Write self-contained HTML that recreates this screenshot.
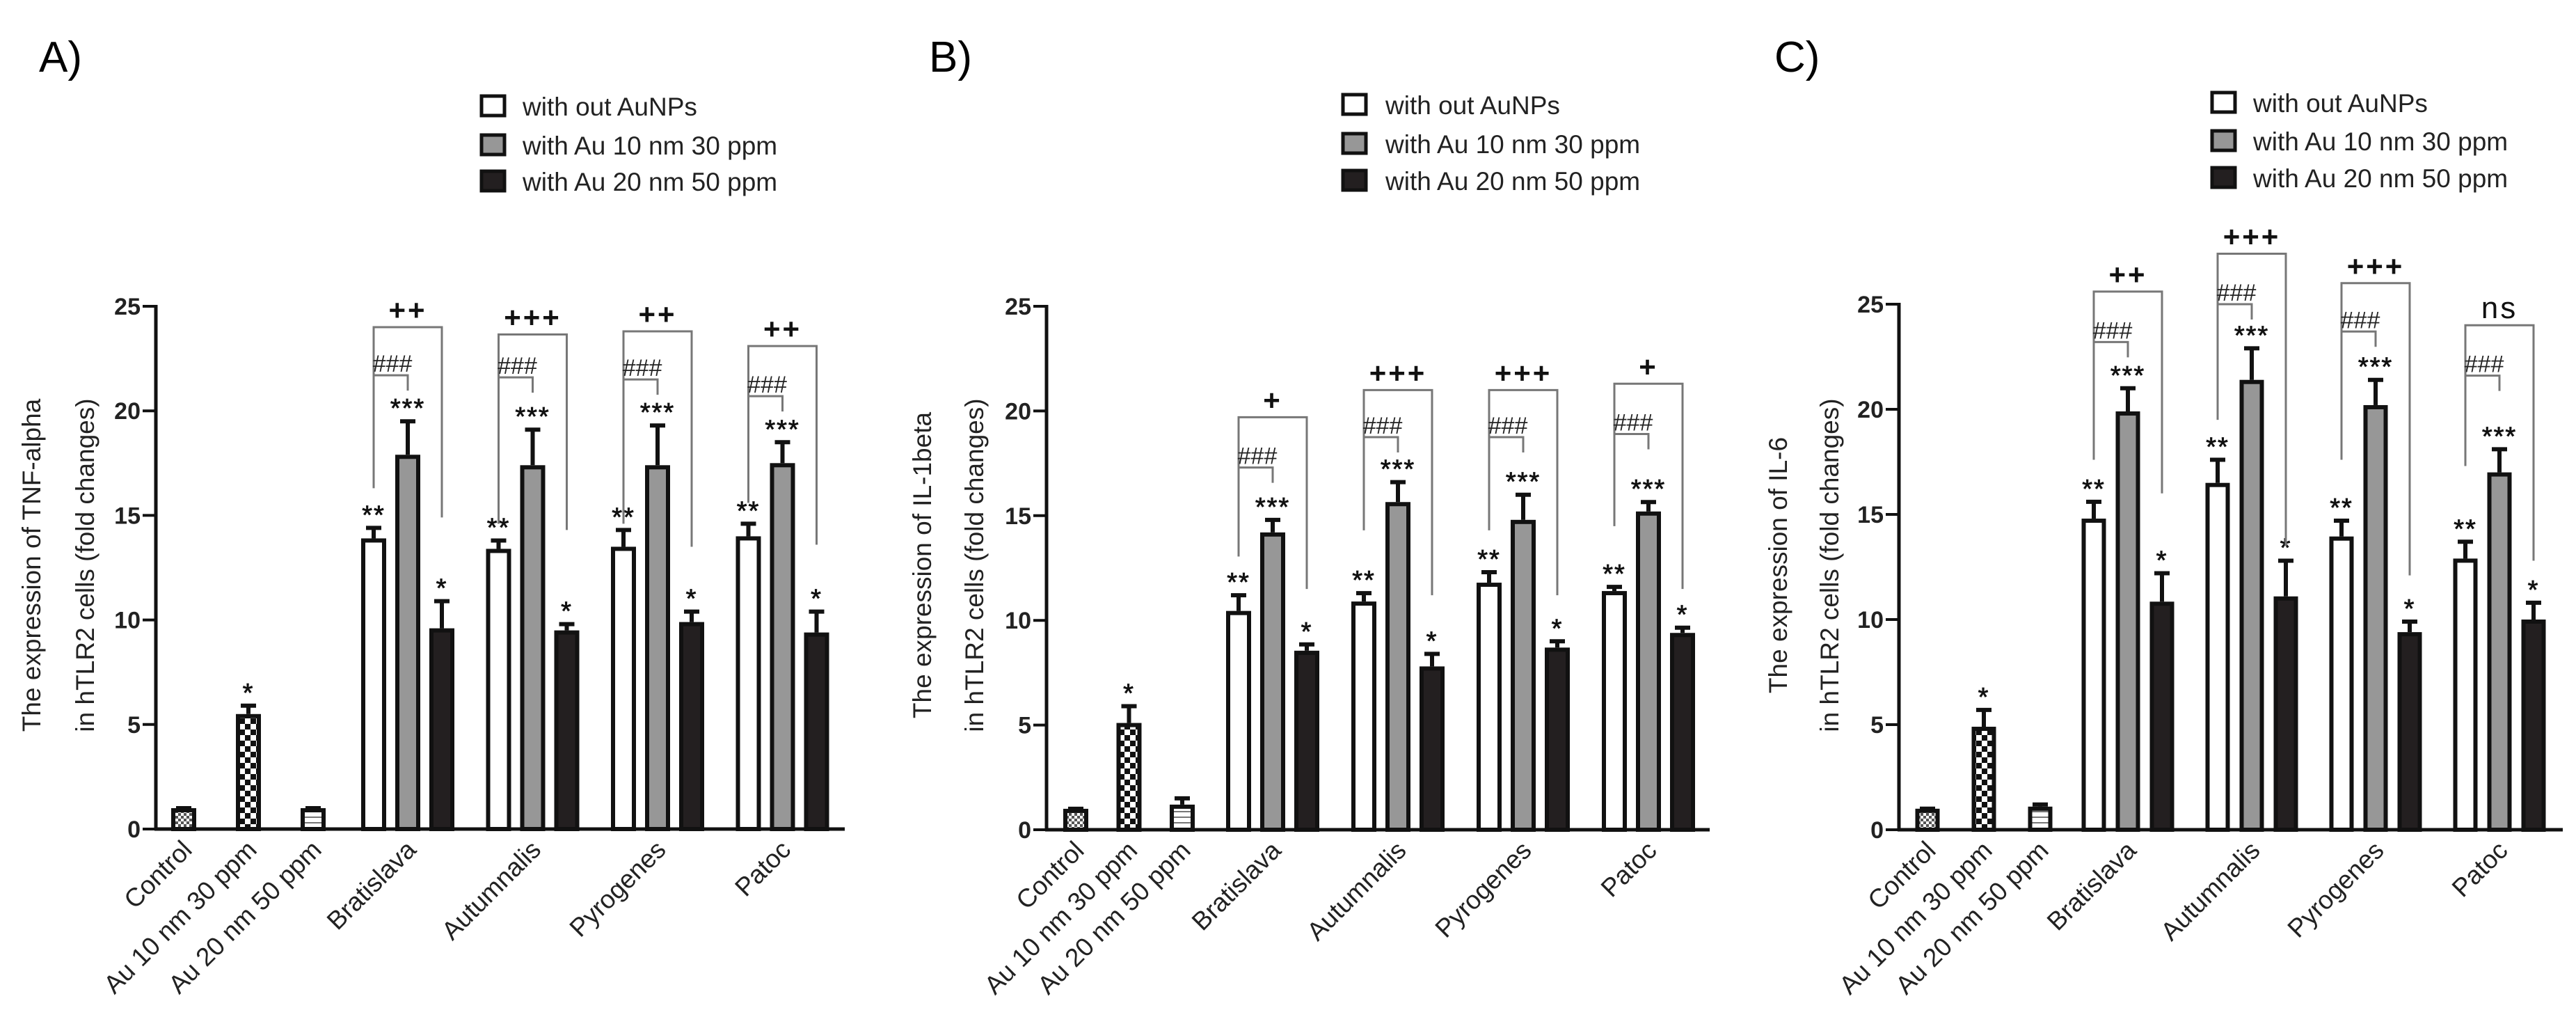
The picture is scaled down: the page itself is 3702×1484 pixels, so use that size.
<!DOCTYPE html>
<html><head><meta charset="utf-8"><style>
html,body{margin:0;padding:0;background:#fff;}
svg{display:block;font-family:"Liberation Sans",Arial,sans-serif;}
</style></head><body>
<svg id="fig" width="3702" height="1484" viewBox="0 0 3702 1484" xmlns="http://www.w3.org/2000/svg">
<defs>
<pattern id="patCtrl" width="8" height="8" patternUnits="userSpaceOnUse"><rect width="8" height="8" fill="#fff"/><rect width="4" height="4" fill="#555"/><rect x="4" y="4" width="4" height="4" fill="#555"/></pattern>
<pattern id="patAu10" width="16" height="16" patternUnits="userSpaceOnUse"><rect width="16" height="16" fill="#fff"/><rect width="8" height="8" fill="#111"/><rect x="8" y="8" width="8" height="8" fill="#111"/></pattern>
<pattern id="patAu20" width="8" height="8" patternUnits="userSpaceOnUse"><rect width="8" height="8" fill="#fff"/><rect y="5" width="8" height="2" fill="#777"/></pattern>
</defs>
</svg>
<script>
const categories = ["Control","Au 10 nm 30 ppm","Au 20 nm 50 ppm","Bratislava","Autumnalis","Pyrogenes","Patoc"];
const yTicks = [0,5,10,15,20,25];
const legendLabels = ["with out AuNPs","with Au 10 nm 30 ppm","with Au 20 nm 50 ppm"];
const panelLetters = ["A)","B)","C)"];
const yTitles = ["The expression of TNF-alpha","The expression of IL-1beta","The expression of IL-6"];
const yTitle2 = "in hTLR2 cells (fold changes)";

// Panel A (TNF-alpha)
const singleA = [1.0,5.5,1.0];
const singleErrA = [1.0,5.9,1.0];
const woA = [13.9,13.4,13.5,14.0];
const woErrA = [14.4,13.8,14.3,14.6];
const au10A = [17.9,17.4,17.4,17.5];
const au10ErrA = [19.5,19.1,19.3,18.5];
const au20A = [9.6,9.5,9.9,9.4];
const au20ErrA = [10.9,9.8,10.4,10.4];
const outerA = [24.0,23.65,23.8,23.1];
const leftLegA = [16.3,14.6,14.6,15.6];
const rightLegA = [14.9,14.3,13.5,13.6];
const innerA = [21.7,21.6,21.5,20.7];
const plusA = ["++","+++","++","++"];

// Panel B (IL-1beta)
const singleB = [1.0,5.1,1.2];
const singleErrB = [1.0,5.9,1.5];
const woB = [10.45,10.9,11.8,11.4];
const woErrB = [11.2,11.3,12.3,11.6];
const au10B = [14.2,15.65,14.8,15.2];
const au10ErrB = [14.8,16.6,16.0,15.65];
const au20B = [8.55,7.8,8.7,9.4];
const au20ErrB = [8.85,8.4,9.0,9.65];
const outerB = [19.7,21.0,21.0,21.3];
const leftLegB = [13.05,14.3,14.3,14.5];
const rightLegB = [11.5,11.2,11.2,11.5];
const innerB = [17.3,18.75,18.75,18.9];
const plusB = ["+","+++","+++","+"];

// Panel C (IL-6)
const singleC = [1.0,4.9,1.1];
const singleErrC = [1.0,5.7,1.2];
const woC = [14.8,16.5,13.95,12.9];
const woErrC = [15.6,17.6,14.7,13.7];
const au10C = [19.9,21.4,20.2,17.0];
const au10ErrC = [21.0,22.9,21.4,18.1];
const au20C = [10.85,11.1,9.4,10.0];
const au20ErrC = [12.2,12.8,9.9,10.8];
const outerC = [25.6,27.4,26.0,24.0];
const leftLegC = [17.6,19.5,17.6,17.3];
const rightLegC = [16.0,13.5,12.1,12.8];
const innerC = [23.2,25.0,23.7,21.6];
const plusC = ["++","+++","+++","ns"];

const singleStars = ["","*",""];
const groupStars = ["**","***","*"];

const layouts = [
 {axisX:224,zeroY:1191,topY:440,endX:1214,s0:264,sStep:93,g0:537,gStep:179.5,inner:49,bw:36,lbx:689,ltx:751,ly:[153,209,261],px:56,t1:48,t2:125},
 {axisX:1504,zeroY:1192,topY:440,endX:2457,s0:1546,sStep:76.5,g0:1780,gStep:180,inner:49,bw:36,lbx:1927,ltx:1991,ly:[151,207,260],px:1335,t1:1328,t2:1403},
 {axisX:2729,zeroY:1192,topY:437,endX:3683,s0:2770,sStep:81,g0:3009,gStep:178,inner:49,bw:35,lbx:3176,ltx:3238,ly:[148,203,256],px:2550,t1:2558,t2:2632}
];
const panels = [
 {single:singleA,singleErr:singleErrA,series:[woA,au10A,au20A],errs:[woErrA,au10ErrA,au20ErrA],outer:outerA,left:leftLegA,right:rightLegA,inner:innerA,plus:plusA},
 {single:singleB,singleErr:singleErrB,series:[woB,au10B,au20B],errs:[woErrB,au10ErrB,au20ErrB],outer:outerB,left:leftLegB,right:rightLegB,inner:innerB,plus:plusB},
 {single:singleC,singleErr:singleErrC,series:[woC,au10C,au20C],errs:[woErrC,au10ErrC,au20ErrC],outer:outerC,left:leftLegC,right:rightLegC,inner:innerC,plus:plusC}
];
const singleFills = ["url(#patCtrl)","url(#patAu10)","url(#patAu20)"];
const seriesFills = ["#ffffff","#979797","#231f20"];
const seriesNames = ["without-aunps","au10","au20"];

const NS = "http://www.w3.org/2000/svg";
const svg = document.getElementById("fig");
function mk(tag, attrs, parent, txt){
  const e = document.createElementNS(NS, tag);
  for (const k in attrs) e.setAttribute(k, attrs[k]);
  if (txt !== undefined) e.textContent = txt;
  (parent||svg).appendChild(e);
  return e;
}

layouts.forEach((L, pi) => {
  const P = panels[pi];
  const y = v => L.zeroY - (L.zeroY - L.topY) * v / 25;
  const sx = i => L.s0 + i * L.sStep;
  const gx = (g, s) => L.g0 + g * L.gStep + s * L.inner;
  const g = mk("g", {});
  
  

  const pl = mk("text", {x:L.px, y:103, "font-size":62}, g, panelLetters[pi]);
  
  

  legendLabels.forEach((lab, i) => {
    const r = mk("rect", {x:L.lbx+3, y:L.ly[i]-15, width:33, height:28, fill:seriesFills[i], stroke:"#111", "stroke-width":5}, g);
    
    
    const t = mk("text", {x:L.ltx, y:L.ly[i]+13, "font-size":37, fill:"#222"}, g, lab);
    
    
  });

  const cy = 812;
  const yt1 = mk("text", {x:L.t1, y:cy, "font-size":37, "text-anchor":"middle", transform:`rotate(-90 ${L.t1} ${cy})`, "dominant-baseline":"middle", fill:"#222"}, g, yTitles[pi]);
  
  
  const yt2 = mk("text", {x:L.t2, y:cy, "font-size":37, "text-anchor":"middle", transform:`rotate(-90 ${L.t2} ${cy})`, "dominant-baseline":"middle", fill:"#222"}, g, yTitle2);
  
  

  const ya = mk("line", {x1:L.axisX, y1:y(25)-2, x2:L.axisX, y2:L.zeroY+2, stroke:"#111", "stroke-width":5}, g);
  
  
  const xa = mk("line", {x1:L.axisX-2, y1:L.zeroY, x2:L.endX, y2:L.zeroY, stroke:"#111", "stroke-width":5}, g);
  
  
  yTicks.forEach(v => {
    const tk = mk("line", {x1:L.axisX-19, y1:y(v), x2:L.axisX, y2:y(v), stroke:"#111", "stroke-width":4}, g);
    
    
    const tl = mk("text", {x:L.axisX-22, y:y(v)+12, "font-size":34, "font-weight":"bold", "text-anchor":"end", fill:"#222"}, g, String(v));
    
    
  });

  function bar(cx, v, e, fill, star, name){
    const top = y(v);
    const er = mk("line", {x1:cx, y1:y(e), x2:cx, y2:top, stroke:"#111", "stroke-width":6}, g);
    
    
    const cap = mk("line", {x1:cx-11, y1:y(e), x2:cx+11, y2:y(e), stroke:"#111", "stroke-width":6}, g);
    
    
    const r = mk("rect", {x:cx-L.bw/2+3, y:top+3, width:L.bw-6, height:Math.max(0, L.zeroY-top-3), fill:fill, stroke:"#111", "stroke-width":6}, g);
    
    
    if (star) {
      const st = mk("text", {x:cx, y:y(e)-6, "font-size":38, "text-anchor":"middle", fill:"#111", "letter-spacing":"2", stroke:"#111", "stroke-width":0.8}, g, star);
      
      
    }
  }
  P.single.forEach((v, i) => bar(sx(i), v, P.singleErr[i], singleFills[i], singleStars[i], 'bar-' + categories[i].toLowerCase().replace(/ /g,'-')));
  for (let gi = 0; gi < 4; gi++) {
    for (let s = 0; s < 3; s++) bar(gx(gi, s), P.series[s][gi], P.errs[s][gi], seriesFills[s], groupStars[s], 'bar-' + categories[gi+3].toLowerCase() + '-' + seriesNames[s]);
    const xl = gx(gi,0), xm = gx(gi,1), xr = gx(gi,2);
    const ob = mk("path", {d:`M${xl},${y(P.left[gi])} V${y(P.outer[gi])} H${xr} V${y(P.right[gi])}`, fill:"none", stroke:"#777", "stroke-width":3}, g);
    
    
    const ib = mk("path", {d:`M${xl},${y(P.inner[gi])} H${xm} V${y(P.inner[gi])+22}`, fill:"none", stroke:"#777", "stroke-width":3}, g);
    
    
    const ht = mk("text", {x:(xl+xm)/2+2, y:y(P.inner[gi])-5, "font-size":34, "text-anchor":"middle", fill:"#222", "font-style":"italic"}, g, "###");
    
    
    const isNs = P.plus[gi] === "ns";
    const pt = mk("text", {x:xm, y:y(P.outer[gi])-10, "font-size":isNs?44:42, "font-weight":isNs?"normal":"bold", "text-anchor":"middle", fill:"#111", "letter-spacing":"3"}, g, P.plus[gi]);
    
    
  }
  categories.forEach((c, i) => {
    const cx = i < 3 ? sx(i) : gx(i-3, 1);
    const tx = cx + 14, ty = L.zeroY + 32;
    const t = mk("text", {x:tx, y:ty, "font-size":37, "text-anchor":"end", transform:`rotate(-45 ${tx} ${ty})`, fill:"#222"}, g, c);
    
    
  });
});
</script>
</body></html>
